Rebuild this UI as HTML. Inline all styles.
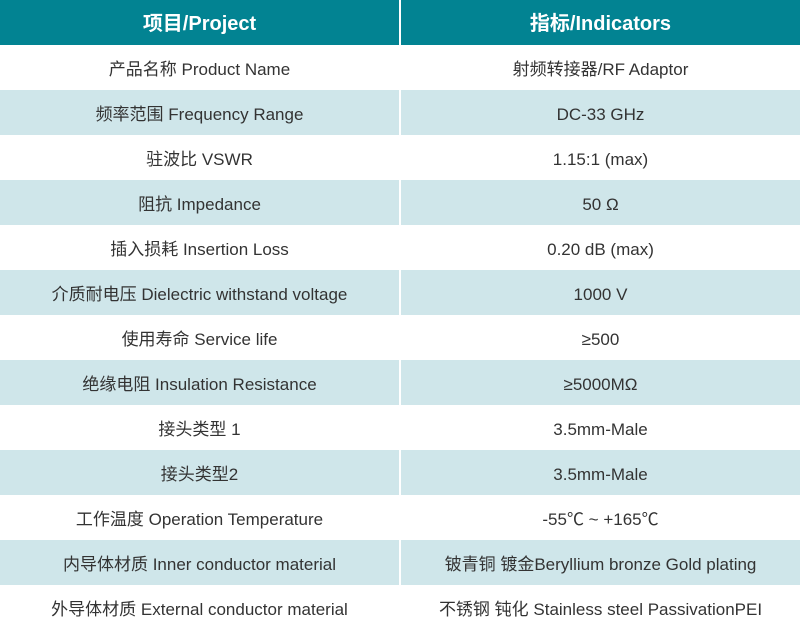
<!DOCTYPE html>
<html><head><meta charset="utf-8"><style>
body{margin:0;width:800px;height:633px;overflow:hidden;background:#fff;font-family:"Liberation Sans","Noto Sans CJK SC",sans-serif;}
.r{display:flex;height:45px;}
.c{width:399px;height:45px;line-height:49px;text-align:center;font-size:17px;color:#333;overflow:hidden;white-space:nowrap;}
.c+.c{margin-left:2px;width:399px;}
.h .c{background:#028392;color:#fff;font-weight:bold;font-size:20px;}
.a .c{background:#cfe6ea;}
.r:last-child{height:48px;}
.r:last-child .c{height:48px;line-height:49px;}
</style></head><body>
<div class="r h"><div class="c">项目/Project</div><div class="c">指标/Indicators</div></div>
<div class="r"><div class="c">产品名称 Product Name</div><div class="c">射频转接器/RF Adaptor</div></div>
<div class="r a"><div class="c">频率范围 Frequency Range</div><div class="c">DC-33 GHz</div></div>
<div class="r"><div class="c">驻波比 VSWR</div><div class="c">1.15:1 (max)</div></div>
<div class="r a"><div class="c">阻抗 Impedance</div><div class="c">50 Ω</div></div>
<div class="r"><div class="c">插入损耗 Insertion Loss</div><div class="c">0.20 dB (max)</div></div>
<div class="r a"><div class="c">介质耐电压 Dielectric withstand voltage</div><div class="c">1000 V</div></div>
<div class="r"><div class="c">使用寿命 Service life</div><div class="c">≥500</div></div>
<div class="r a"><div class="c">绝缘电阻 Insulation Resistance</div><div class="c">≥5000MΩ</div></div>
<div class="r"><div class="c">接头类型 1</div><div class="c">3.5mm-Male</div></div>
<div class="r a"><div class="c">接头类型2</div><div class="c">3.5mm-Male</div></div>
<div class="r"><div class="c">工作温度 Operation Temperature</div><div class="c">-55℃ ~ +165℃</div></div>
<div class="r a"><div class="c">内导体材质 Inner conductor material</div><div class="c">铍青铜 镀金Beryllium bronze Gold plating</div></div>
<div class="r"><div class="c">外导体材质 External conductor material</div><div class="c">不锈钢 钝化 Stainless steel PassivationPEI</div></div>
</body></html>
